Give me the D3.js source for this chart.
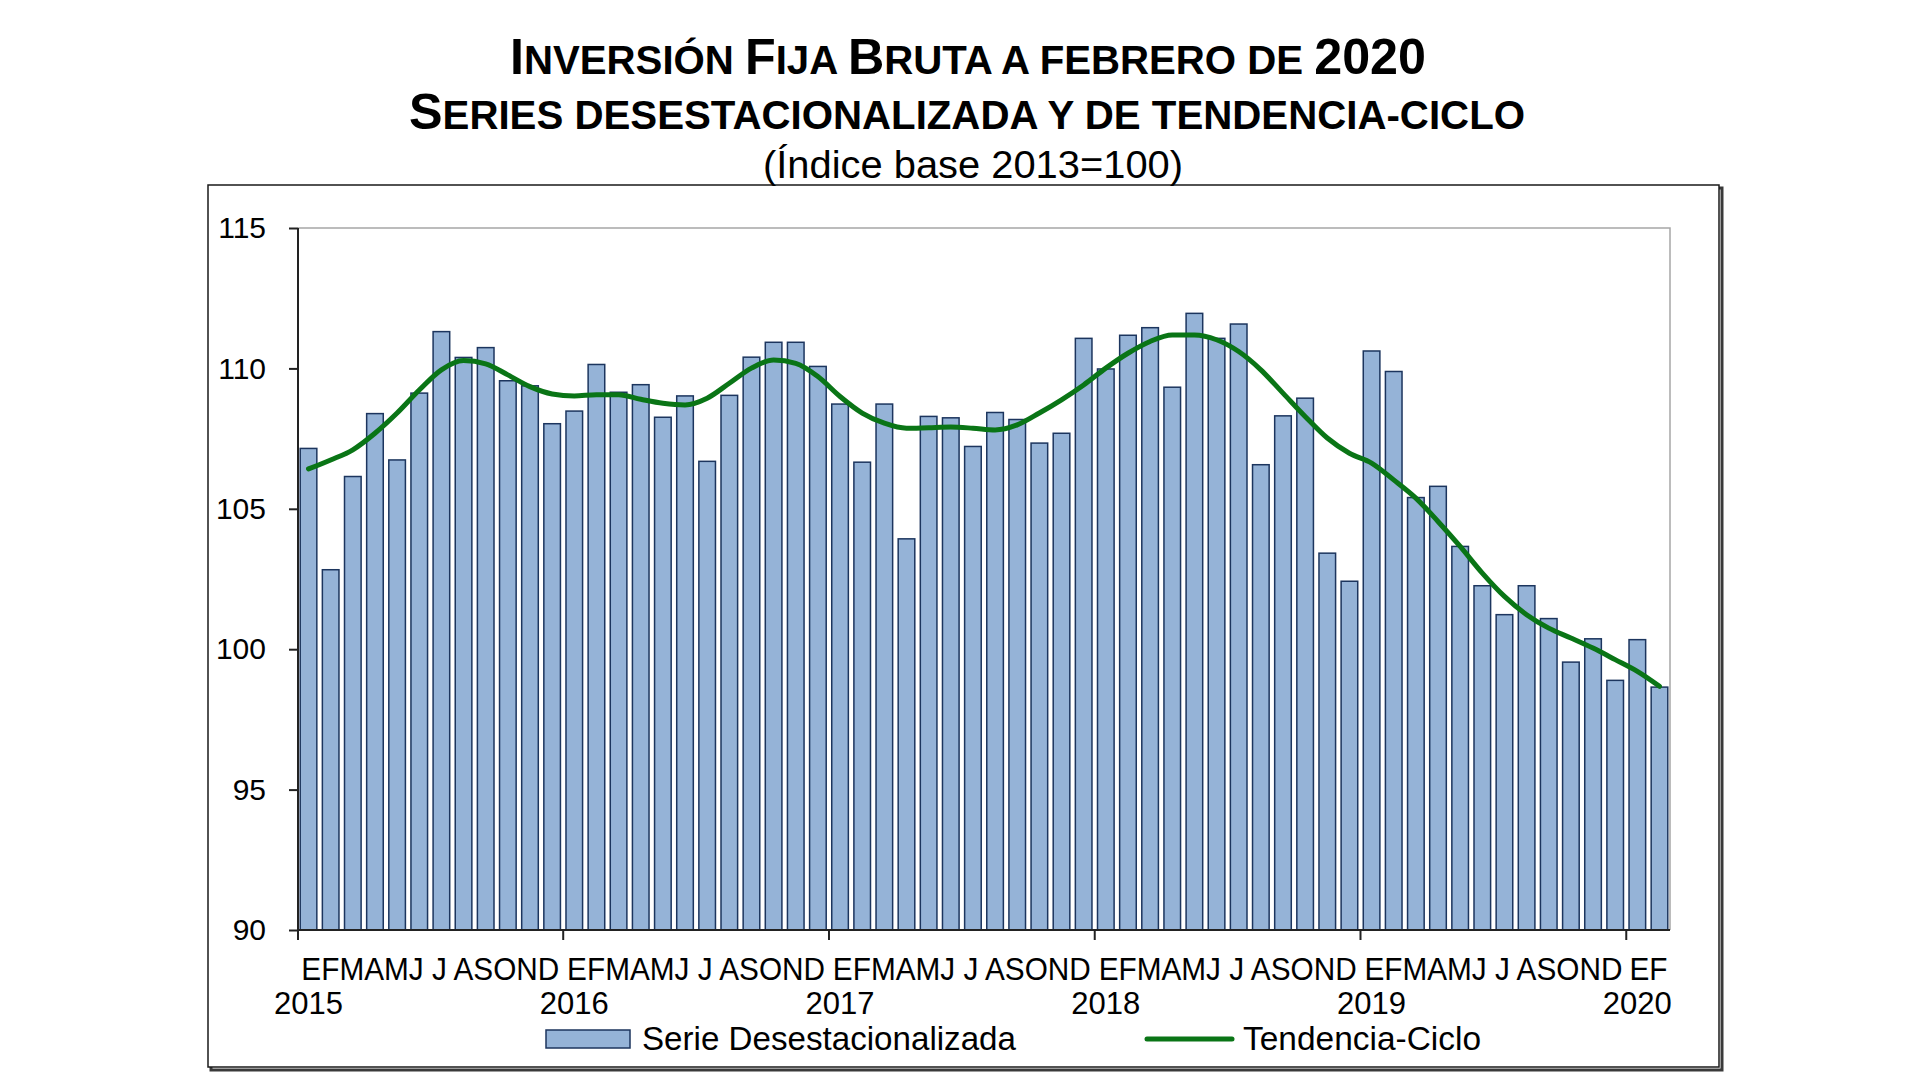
<!DOCTYPE html>
<html>
<head>
<meta charset="utf-8">
<script src="https://cdn.jsdelivr.net/npm/d3@7"></script>
<style>
    html, body { margin: 0; padding: 0; background: #fff; }
    svg { display: block; font-family: 'Liberation Sans', Arial, sans-serif; }
</style>
</head>
<body>
<div id="chart"></div>
<script>
(function(d3) {
    'use strict';

    // Years shown on the axis and the month-initials label under each year
    var years = ['2015', '2016', '2017', '2018', '2019', '2020'];
    var monthsPerYear = [12, 12, 12, 12, 12, 2];
    var monthLabels = ['EFMAMJ J ASOND', 'EFMAMJ J ASOND', 'EFMAMJ J ASOND',
        'EFMAMJ J ASOND', 'EFMAMJ J ASOND', 'EF'];

    // Serie desestacionalizada, ene 2015 - feb 2020
    var desestacionalizada = [
        107.15, 102.83, 106.15, 108.39, 106.74, 109.12, 111.31, 110.39, 110.74, 109.56, 109.38, 108.03,
        108.48, 110.14, 109.15, 109.42, 108.26, 109.02, 106.69, 109.04, 110.40, 110.93, 110.93, 110.07,
        108.73, 106.66, 108.73, 103.93, 108.29, 108.24, 107.22, 108.43, 108.18, 107.34, 107.69, 111.07,
        109.98, 111.18, 111.45, 109.33, 111.96, 111.07, 111.58, 106.57, 108.31, 108.94, 103.42, 102.42,
        110.62, 109.89, 105.40, 105.80, 103.66, 102.26, 101.23, 102.26, 101.09, 99.54, 100.37, 98.89,
        100.34, 98.65
    ];

    // Tendencia-ciclo
    var tendencia = [
        106.42, 106.74, 107.10, 107.69, 108.41, 109.23, 109.95, 110.28, 110.16, 109.77, 109.35, 109.09,
        109.02, 109.06, 109.06, 108.90, 108.76, 108.70, 108.94, 109.47, 110.01, 110.30, 110.18, 109.71,
        109.00, 108.41, 108.05, 107.87, 107.89, 107.91, 107.87, 107.81, 107.99, 108.41, 108.88, 109.41,
        110.01, 110.54, 110.96, 111.19, 111.19, 111.02, 110.60, 109.95, 109.12, 108.29, 107.52, 106.98,
        106.63, 106.03, 105.38, 104.55, 103.66, 102.71, 101.88, 101.23, 100.75, 100.40, 100.04, 99.63,
        99.21, 98.68
    ];

    var yTicks = [90, 95, 100, 105, 110, 115];

    // Build the category list (one entry per month)
    var categories = [];
    years.forEach(function(year, yi) {
        for (var m = 0; m < monthsPerYear[yi]; m++) {
            categories.push({key: year + '-' + (m + 1), year: year, yearIndex: yi, month: m});
        }
    });

    var width = 1920,
        height = 1080;

    var plot = {left: 298, right: 1670, top: 228, bottom: 930};

    var svg = d3.select('#chart').append('svg')
        .attr('width', width)
        .attr('height', height);

    // Outer frame with a small drop shadow
    svg.append('rect')
        .attr('x', 211).attr('y', 188)
        .attr('width', 1511).attr('height', 882)
        .attr('fill', 'none')
        .attr('stroke', '#3a3a3a')
        .attr('stroke-width', 3);
    svg.append('rect')
        .attr('x', 208).attr('y', 185)
        .attr('width', 1511).attr('height', 882)
        .attr('fill', '#fff')
        .attr('stroke', '#1a1a1a')
        .attr('stroke-width', 1.5);

    // Titles
    var title1 = svg.append('text')
        .attr('x', 968).attr('y', 74)
        .attr('text-anchor', 'middle')
        .attr('font-weight', 'bold')
        .attr('textLength', 916)
        .attr('lengthAdjust', 'spacingAndGlyphs')
        .attr('fill', '#000');
    [['I', 50], ['NVERSIÓN ', 40], ['F', 50], ['IJA ', 40], ['B', 50],
        ['RUTA A FEBRERO DE ', 40], ['2020', 50]].forEach(function(p) {
        title1.append('tspan').attr('font-size', p[1]).text(p[0]);
    });

    var title2 = svg.append('text')
        .attr('x', 967).attr('y', 129)
        .attr('text-anchor', 'middle')
        .attr('font-weight', 'bold')
        .attr('textLength', 1116)
        .attr('lengthAdjust', 'spacingAndGlyphs')
        .attr('fill', '#000');
    [['S', 50], ['ERIES DESESTACIONALIZADA Y DE TENDENCIA-CICLO', 40]].forEach(function(p) {
        title2.append('tspan').attr('font-size', p[1]).text(p[0]);
    });

    svg.append('text')
        .attr('x', 973).attr('y', 178)
        .attr('text-anchor', 'middle')
        .attr('font-size', 38)
        .attr('textLength', 420)
        .attr('lengthAdjust', 'spacingAndGlyphs')
        .attr('fill', '#000')
        .text('(Índice base 2013=100)');

    // Scales
    var x = d3.scaleBand()
        .domain(categories.map(function(c) { return c.key; }))
        .range([plot.left, plot.right])
        .paddingInner(0.25)
        .paddingOuter(0.1);

    var y = d3.scaleLinear()
        .domain([90, 115])
        .range([plot.bottom, plot.top]);

    var bw = x.bandwidth(),
        gap = x.step() - bw;

    // Plot area border (top and right in grey)
    svg.append('path')
        .attr('d', 'M' + plot.left + ',' + plot.top + 'H' + plot.right + 'V' + plot.bottom)
        .attr('fill', 'none')
        .attr('stroke', '#a6a6a6')
        .attr('stroke-width', 1.5);

    // Bars
    svg.append('g')
        .attr('class', 'bars')
        .selectAll('rect')
        .data(categories)
        .enter().append('rect')
        .attr('x', function(c) { return x(c.key); })
        .attr('y', function(c, i) { return y(desestacionalizada[i]); })
        .attr('width', bw)
        .attr('height', function(c, i) { return y(90) - y(desestacionalizada[i]); })
        .attr('fill', '#95b3d7')
        .attr('stroke', '#1c355e')
        .attr('stroke-width', 1.5);

    // Trend line
    var line = d3.line()
        .x(function(d, i) { return x(categories[i].key) + bw / 2; })
        .y(function(d) { return y(d); })
        .curve(d3.curveMonotoneX);

    svg.append('path')
        .datum(tendencia)
        .attr('d', line)
        .attr('fill', 'none')
        .attr('stroke', '#0a7516')
        .attr('stroke-width', 5)
        .attr('stroke-linejoin', 'round')
        .attr('stroke-linecap', 'round');

    // Y axis
    var yAxis = d3.axisLeft(y)
        .tickValues(yTicks)
        .tickSize(9)
        .tickPadding(23);

    var gy = svg.append('g')
        .attr('transform', 'translate(' + plot.left + ',0)')
        .call(yAxis);
    gy.select('.domain').attr('stroke', '#222').attr('stroke-width', 2)
        .attr('d', 'M0,' + plot.top + 'V' + plot.bottom);
    gy.selectAll('.tick line').attr('stroke', '#222').attr('stroke-width', 2);
    gy.selectAll('.tick text')
        .attr('font-family', "'Liberation Sans', Arial, sans-serif")
        .attr('font-size', 30)
        .attr('fill', '#000');

    // X axis line
    svg.append('line')
        .attr('x1', plot.left).attr('x2', plot.right)
        .attr('y1', plot.bottom).attr('y2', plot.bottom)
        .attr('stroke', '#222')
        .attr('stroke-width', 2);

    // Year boundary ticks
    var januaries = categories.filter(function(c) { return c.month === 0; });
    svg.append('g')
        .selectAll('line')
        .data(januaries)
        .enter().append('line')
        .attr('x1', function(c) { return Math.max(plot.left, x(c.key) - gap / 2); })
        .attr('x2', function(c) { return Math.max(plot.left, x(c.key) - gap / 2); })
        .attr('y1', plot.bottom)
        .attr('y2', plot.bottom + 10)
        .attr('stroke', '#222')
        .attr('stroke-width', 2);

    // Month initials: laid out as one packed string centred over each year,
    // but drawn as one text per letter
    var monthFont = 31,
        fullYearWidth = 258;

    function measure(str) {
        var tmp = svg.append('text').attr('font-size', monthFont).text(str);
        var node = tmp.node();
        var res = {total: node.getComputedTextLength(), chars: []};
        for (var i = 0; i < str.length; i++) {
            res.chars.push({
                ch: str[i],
                offset: i === 0 ? 0 : node.getSubStringLength(0, i),
                w: node.getSubStringLength(i, 1)
            });
        }
        tmp.remove();
        return res;
    }

    var squeeze = fullYearWidth / measure(monthLabels[0]).total;

    var letters = [];
    januaries.forEach(function(c) {
        var idx = categories.indexOf(c),
            n = monthsPerYear[c.yearIndex];
        var spanLeft = x(c.key) - gap / 2,
            spanRight = x(categories[idx + n - 1].key) + bw + gap / 2;
        var m = measure(monthLabels[c.yearIndex]);
        var left = (spanLeft + spanRight) / 2 - m.total * squeeze / 2;
        m.chars.forEach(function(ch) {
            if (ch.ch === ' ') { return; }
            letters.push({ch: ch.ch, cx: left + squeeze * (ch.offset + ch.w / 2)});
        });
    });

    svg.append('g')
        .selectAll('text')
        .data(letters)
        .enter().append('text')
        .attr('transform', function(d) {
            return 'translate(' + d.cx + ',980) scale(' + squeeze + ',1)';
        })
        .attr('text-anchor', 'middle')
        .attr('font-size', monthFont)
        .attr('fill', '#000')
        .text(function(d) { return d.ch; });

    // Year labels, centred on January
    svg.append('g')
        .selectAll('text')
        .data(januaries)
        .enter().append('text')
        .attr('x', function(c) { return x(c.key) + bw / 2; })
        .attr('y', 1014)
        .attr('text-anchor', 'middle')
        .attr('font-size', 31)
        .attr('fill', '#000')
        .text(function(c) { return c.year; });

    // Legend
    var legend = svg.append('g').attr('class', 'legend');
    legend.append('rect')
        .attr('x', 546).attr('y', 1030)
        .attr('width', 84).attr('height', 18)
        .attr('fill', '#95b3d7')
        .attr('stroke', '#1c355e')
        .attr('stroke-width', 1.5);
    legend.append('text')
        .attr('x', 642).attr('y', 1050)
        .attr('font-size', 33)
        .attr('textLength', 374)
        .attr('lengthAdjust', 'spacingAndGlyphs')
        .attr('fill', '#000')
        .text('Serie Desestacionalizada');
    legend.append('line')
        .attr('x1', 1147).attr('x2', 1232)
        .attr('y1', 1039).attr('y2', 1039)
        .attr('stroke', '#0a7516')
        .attr('stroke-width', 5)
        .attr('stroke-linecap', 'round');
    legend.append('text')
        .attr('x', 1243).attr('y', 1050)
        .attr('font-size', 33)
        .attr('textLength', 238)
        .attr('lengthAdjust', 'spacingAndGlyphs')
        .attr('fill', '#000')
        .text('Tendencia-Ciclo');

}(d3));
</script>
</body>
</html>
